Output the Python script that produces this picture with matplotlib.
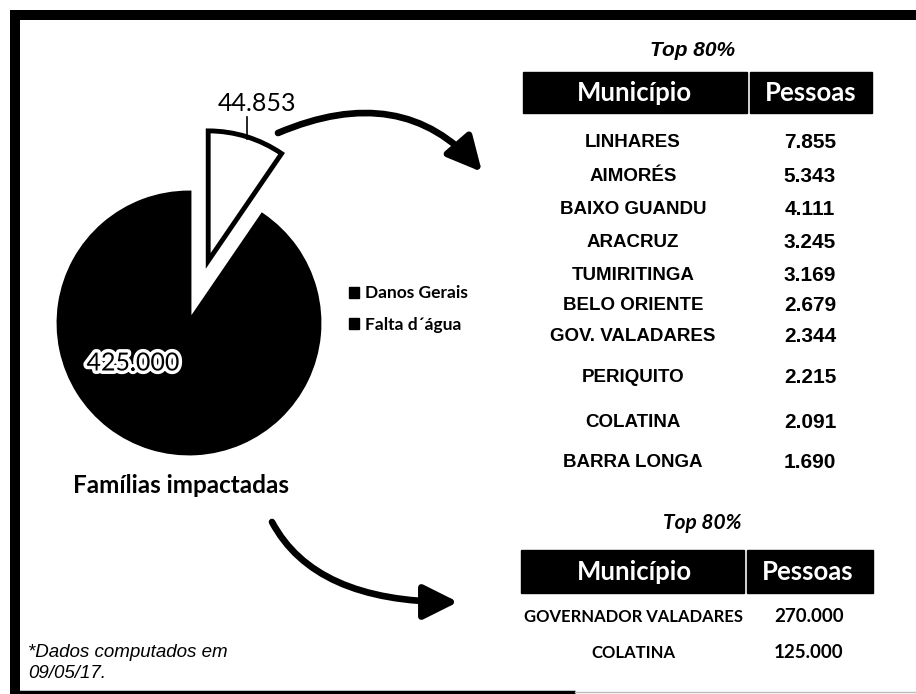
import matplotlib.pyplot as plt
import matplotlib.patheffects as pe
from matplotlib.patches import Patch, Rectangle, FancyArrowPatch

# ────────────── dados ──────────────
categorias = ["Danos Gerais", "Falta d´água"]
familias = [44853, 425000]

top_municipios = ["LINHARES", "AIMORÉS", "BAIXO GUANDU", "ARACRUZ", "TUMIRITINGA",
                  "BELO ORIENTE", "GOV. VALADARES", "PERIQUITO", "COLATINA", "BARRA LONGA"]
top_pessoas = [7855, 5343, 4111, 3245, 3169, 2679, 2344, 2215, 2091, 1690]

agua_municipios = ["GOVERNADOR VALADARES", "COLATINA"]
agua_pessoas = [270000, 125000]

# posicoes das linhas (px) - o original nao tem espacamento regular
top_row_y = [142, 176, 209, 242, 275, 305, 336, 377, 422, 462]
agua_row_y = [617, 653]


def fmt(n):
    return f"{n:,}".replace(",", ".")


W, H = 916, 694
fig = plt.figure(figsize=(W / 100, H / 100), dpi=100)


def px_axes(left, top, width, height):
    return fig.add_axes([left / W, 1 - (top + height) / H, width / W, height / H])


# camada de fundo em pixels (moldura, setas, tabelas)
bg = px_axes(0, 0, W, H)
bg.set_xlim(0, W)
bg.set_ylim(H, 0)
bg.axis("off")

# moldura
bg.plot([15, 15], [10, 694], color="black", lw=7.2, solid_capstyle="butt")
bg.plot([10, 916], [15, 15], color="black", lw=7.2, solid_capstyle="butt")
bg.plot([10, 575], [692, 692], color="black", lw=2.5, solid_capstyle="butt")
bg.plot([575, 916], [692, 692], color="#bbbbbb", lw=1)

# ────────────── pizza ──────────────
cx, cy, R = 189, 323, 130
ax = px_axes(20, 60, 340, 420)
wedges, _ = ax.pie(familias, colors=["white", "black"], startangle=90, counterclock=False,
                   explode=[0.5, 0], wedgeprops=dict(edgecolor="black", linewidth=3.5))
ax.set_xlim((20 - cx) / R, (360 - cx) / R)
ax.set_ylim((cy - 480) / R, (cy - 60) / R)
ax.set_aspect("equal")

# rotulos desenhados junto com a pizza (por cima dela)
ax.text(257, 103, fmt(familias[0]), transform=bg.transData, ha="center", va="center",
        family="Lato", fontsize=18)
ax.plot([247, 247], [117, 139], transform=bg.transData, color="black", lw=1.2, clip_on=False)
ax.text(133, 363, fmt(familias[1]), transform=bg.transData, ha="center", va="center",
        family="Lato", fontsize=18, color="black",
        path_effects=[pe.withStroke(linewidth=5, foreground="white")])

bg.text(181, 485, "Famílias impactadas", ha="center", va="center", family="Lato",
        fontweight="bold", fontsize=17.5)

fig.legend(handles=[Patch(color="black", label=c) for c in categorias],
           loc="center left", bbox_to_anchor=(333 / W, 1 - 309 / H), frameon=False,
           handlelength=0.6, handleheight=0.6, handletextpad=0.35, labelspacing=0.9,
           prop=dict(family="Lato", weight="bold", size=12.5))

# ────────────── setas ──────────────
arrow_kw = dict(arrowstyle="-|>,head_length=1.4,head_width=0.7", mutation_scale=15,
                lw=4.8, color="black", shrinkA=0, shrinkB=0)
bg.add_patch(FancyArrowPatch((278, 133), (482, 172),
                             connectionstyle="angle3,angleA=23,angleB=-49", **arrow_kw))
bg.add_patch(FancyArrowPatch((272, 522), (458, 602),
                             connectionstyle="angle3,angleA=-62,angleB=0", **arrow_kw))

# ────────────── tabela 1: danos gerais ──────────────
bg.text(693, 50, "Top 80%", ha="center", va="center", family="Liberation Sans",
        fontweight="bold", style="italic", fontsize=15)
bg.add_patch(Rectangle((523, 72), 747 - 523, 41, color="black"))
bg.add_patch(Rectangle((750, 72), 872 - 750, 41, color="black"))
bg.text(634, 93, "Município", ha="center", va="center", color="white", family="Lato",
        fontweight="bold", fontsize=18.5)
bg.text(811, 93, "Pessoas", ha="center", va="center", color="white", family="Lato",
        fontweight="bold", fontsize=18.5)
for nome, valor, y in zip(top_municipios, top_pessoas, top_row_y):
    bg.text(633, y, nome, ha="center", va="center", family="Liberation Sans",
            fontweight="bold", fontsize=13.5)
    bg.text(810, y, fmt(valor), ha="center", va="center", family="Liberation Sans",
            fontweight="bold", fontsize=15)

# ────────────── tabela 2: falta d'agua ──────────────
bg.text(702, 523, "Top 80%", ha="center", va="center", family="Lato",
        fontweight="bold", style="italic", fontsize=15)
bg.add_patch(Rectangle((521, 550), 744 - 521, 43, color="black"))
bg.add_patch(Rectangle((747, 550), 873 - 747, 43, color="black"))
bg.text(634, 572, "Município", ha="center", va="center", color="white", family="Lato",
        fontweight="bold", fontsize=18.5)
bg.text(808, 572, "Pessoas", ha="center", va="center", color="white", family="Lato",
        fontweight="bold", fontsize=18.5)
for nome, valor, y in zip(agua_municipios, agua_pessoas, agua_row_y):
    bg.text(633, y, nome, ha="center", va="center", family="Lato",
            fontweight="bold", fontsize=12)
    bg.text(809, y, fmt(valor), ha="center", va="center", family="Lato",
            fontweight="bold", fontsize=13.5)

# nota de rodape
bg.text(28, 663, "*Dados computados em\n09/05/17.", ha="left", va="center",
        family="Liberation Sans", style="italic", fontsize=13.5, linespacing=1.25)

fig.savefig("out.png", dpi=100)
